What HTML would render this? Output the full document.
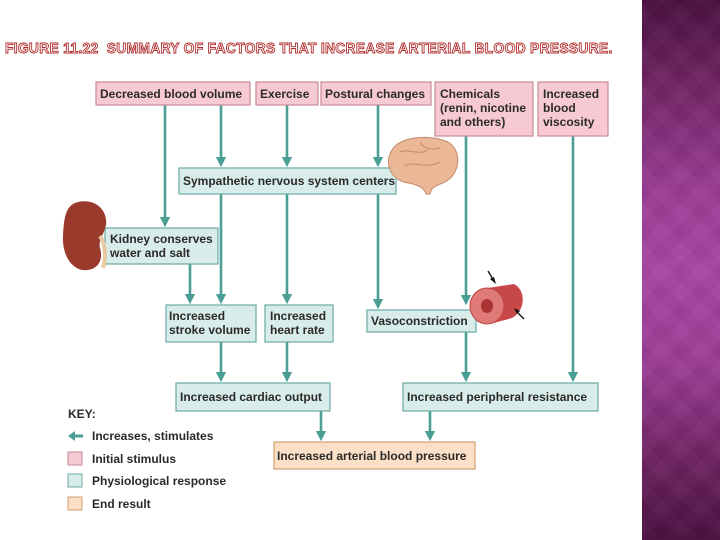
<!DOCTYPE html>
<html><head><meta charset="utf-8"><style>
html,body{margin:0;padding:0;background:#fff;}
body{width:720px;height:540px;position:relative;overflow:hidden;font-family:"Liberation Sans",sans-serif;}
#side{position:absolute;left:642px;top:0;width:78px;height:540px;background:linear-gradient(180deg,#4a1040 0%,#6e2462 15%,#9a3c94 35%,#a646a2 50%,#9a3c94 68%,#6e2462 85%,#4a1040 100%);}
#side:after{content:"";position:absolute;inset:0;background:repeating-linear-gradient(45deg,rgba(255,255,255,0.02) 0 14px,rgba(0,0,0,0.02) 14px 28px),repeating-linear-gradient(-45deg,rgba(255,255,255,0.02) 0 14px,rgba(0,0,0,0.02) 14px 28px);}
#title{position:absolute;left:5px;top:41px;font-size:14.5px;letter-spacing:0.3px;color:#fff;-webkit-text-stroke:0.9px #b02a2a;font-weight:bold;white-space:nowrap;transform:scaleX(0.955);transform-origin:left top;}
svg text{font-family:"Liberation Sans",sans-serif;font-size:12px;font-weight:bold;fill:#2a2a2a;}
</style></head><body>
<div id="title">FIGURE 11.22&nbsp; SUMMARY OF FACTORS THAT INCREASE ARTERIAL BLOOD PRESSURE.</div>
<div id="side"></div>
<svg width="642" height="540" style="position:absolute;left:0;top:0">
<defs><marker id="a" markerWidth="4" markerHeight="4" refX="2" refY="2" orient="auto" markerUnits="strokeWidth"><path d="M0,0 L4,2 L0,4 z" fill="#4a9e94"/></marker></defs>
<g stroke="#4a9e94" stroke-width="2.6" fill="none" marker-end="url(#a)">
<line x1="165" y1="105" x2="165" y2="222"/>
<line x1="221" y1="105" x2="221" y2="162"/>
<line x1="287" y1="105" x2="287" y2="162"/>
<line x1="378" y1="105" x2="378" y2="162"/>
<line x1="466" y1="136" x2="466" y2="300"/>
<line x1="573" y1="136" x2="573" y2="377"/>
<line x1="190" y1="264" x2="190" y2="299"/>
<line x1="221" y1="194" x2="221" y2="299"/>
<line x1="287" y1="194" x2="287" y2="299"/>
<line x1="378" y1="194" x2="378" y2="304"/>
<line x1="221" y1="342" x2="221" y2="377"/>
<line x1="287" y1="342" x2="287" y2="377"/>
<line x1="466" y1="332" x2="466" y2="377"/>
<line x1="321" y1="411" x2="321" y2="436"/>
<line x1="430" y1="411" x2="430" y2="436"/>
</g>
<g fill="#f7c9d2" stroke="#c98a96" stroke-width="1.2">
<rect x="96" y="82" width="154" height="23"/><rect x="256" y="82" width="62" height="23"/>
<rect x="321" y="82" width="110" height="23"/><rect x="435" y="82" width="98" height="54"/>
<rect x="538" y="82" width="70" height="54"/>
</g>
<g fill="#d8ece9" stroke="#6aaba3" stroke-width="1.2">
<rect x="179" y="168" width="217" height="26"/><rect x="105" y="228" width="113" height="36"/>
<rect x="166" y="305" width="90" height="37"/><rect x="265" y="305" width="68" height="37"/>
<rect x="367" y="310" width="109" height="22"/><rect x="176" y="383" width="154" height="28"/>
<rect x="403" y="383" width="195" height="28"/>
</g>
<rect x="274" y="442" width="201" height="27" fill="#fbdfc6" stroke="#d49e6e" stroke-width="1.2"/>
<text x="100" y="98">Decreased blood volume</text><text x="260" y="98">Exercise</text>
<text x="325" y="98">Postural changes</text>
<text x="440" y="98">Chemicals</text><text x="440" y="112">(renin, nicotine</text><text x="440" y="126">and others)</text>
<text x="543" y="98">Increased</text><text x="543" y="112">blood</text><text x="543" y="126">viscosity</text>
<text x="183" y="185">Sympathetic nervous system centers</text>
<text x="110" y="243">Kidney conserves</text><text x="110" y="257">water and salt</text>
<text x="169" y="320">Increased</text><text x="169" y="334">stroke volume</text>
<text x="270" y="320">Increased</text><text x="270" y="334">heart rate</text>
<text x="371" y="325">Vasoconstriction</text>
<text x="180" y="401">Increased cardiac output</text>
<text x="407" y="401">Increased peripheral resistance</text>
<text x="277" y="460">Increased arterial blood pressure</text>
<text x="68" y="418">KEY:</text>
<path d="M68,436 L75,431 L75,434.5 L83,434.5 L83,437.5 L75,437.5 L75,441 z" fill="#4a9e94"/>
<text x="92" y="440">Increases, stimulates</text>
<rect x="68" y="452" width="14" height="13" fill="#f7c9d2" stroke="#c98a96"/><text x="92" y="463">Initial stimulus</text>
<rect x="68" y="474" width="14" height="13" fill="#d8ece9" stroke="#6aaba3"/><text x="92" y="485">Physiological response</text>
<rect x="68" y="497" width="14" height="13" fill="#fbdfc6" stroke="#d49e6e"/><text x="92" y="508">End result</text>
<path d="M78,202 C95,198 108,210 106,225 C104,235 98,240 100,248 C103,258 100,268 88,270 C72,272 62,255 63,236 C64,216 66,205 78,202 z" fill="#9a3a2c"/>
<path d="M100,236 C106,245 106,258 103,268" stroke="#e8c9a0" stroke-width="4" fill="none"/>
<path d="M392,150 C400,136 430,134 448,142 C462,150 460,172 448,180 C440,186 432,184 430,194 L426,194 C424,186 414,184 404,182 C390,178 384,162 392,150 z" fill="#eab896" stroke="#c48a6a" stroke-width="1"/>
<path d="M400,152 C410,148 418,156 428,150 M404,166 C414,160 424,170 440,162 M420,142 C424,150 434,150 440,148" stroke="#c48a6a" fill="none"/>
<path d="M488,288 L514,284 C526,290 526,310 512,318 L490,324 z" fill="#c8484a"/>
<ellipse cx="487" cy="306" rx="17" ry="18" fill="#e07a76" stroke="#c04444"/>
<ellipse cx="487" cy="306" rx="6" ry="7" fill="#a83434"/>
<path d="M488,271 L494,281" stroke="#111" stroke-width="1.3"/><path d="M496,284 L490,279 L494,277z" fill="#111"/>
<path d="M524,319 L516,311" stroke="#111" stroke-width="1.3"/><path d="M514,308 L520,311 L517,314z" fill="#111"/>
</svg>
</body></html>
